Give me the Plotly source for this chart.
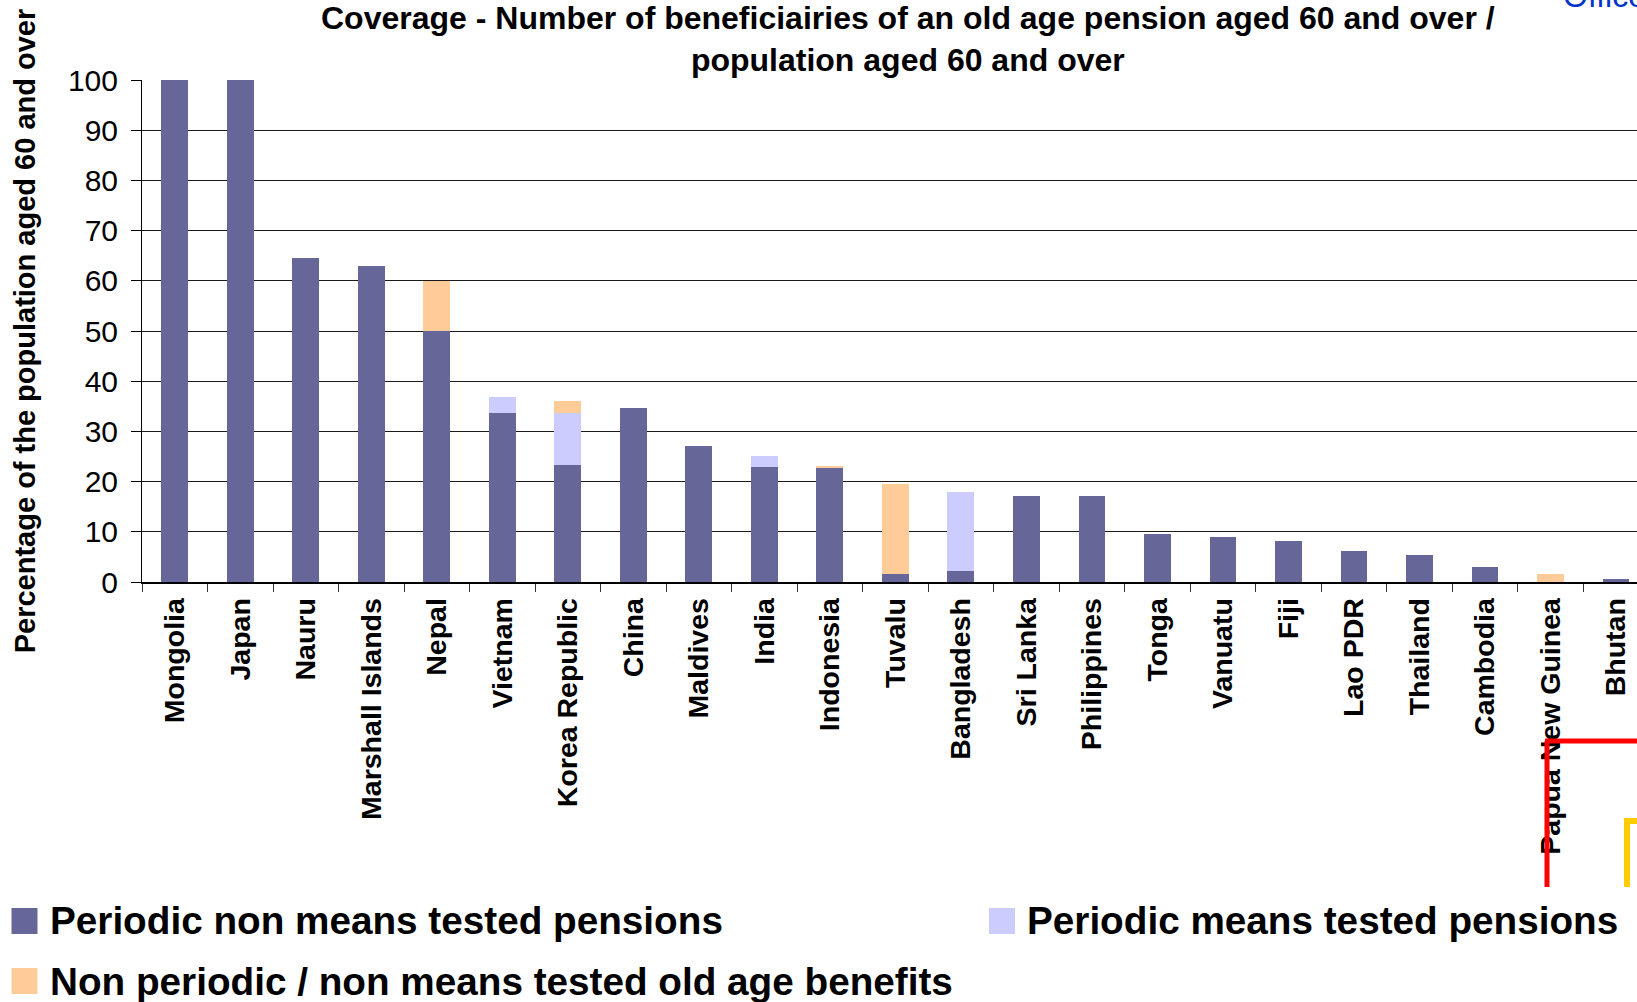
import plotly.graph_objects as go

# Countries, ordered by total coverage
countries = [
    "Mongolia", "Japan", "Nauru", "Marshall Islands", "Nepal", "Vietnam",
    "Korea Republic", "China", "Maldives", "India", "Indonesia", "Tuvalu",
    "Bangladesh", "Sri Lanka", "Philippines", "Tonga", "Vanuatu", "Fiji",
    "Lao PDR", "Thailand", "Cambodia", "Papua New Guinea", "Bhutan",
]

# Stacked components (% of population aged 60+)
periodic_non_means_tested = [
    100, 100, 64.6, 63.0, 50.0, 33.7, 23.3, 34.7, 27.1, 22.9, 22.7, 1.5,
    2.1, 17.1, 17.1, 9.5, 8.9, 8.1, 6.1, 5.3, 2.9, 0.0, 0.5,
]
periodic_means_tested = [
    0, 0, 0, 0, 0, 3.2, 10.4, 0, 0, 2.2, 0, 0,
    15.8, 0, 0, 0, 0, 0, 0, 0, 0, 0, 0,
]
non_periodic_benefits = [
    0, 0, 0, 0, 10.0, 0, 2.4, 0, 0, 0, 0.4, 18.0,
    0, 0, 0, 0, 0, 0, 0, 0, 0, 1.5, 0,
]

series_names = [
    "Periodic non means tested pensions",
    "Periodic means tested pensions",
    "Non periodic / non means tested old age benefits",
]
series_colors = ["#666699", "#CCCCFF", "#FFCC99"]

y_ticks = [0, 10, 20, 30, 40, 50, 60, 70, 80, 90, 100]

title_text = ("Coverage - Number of beneficiairies of an old age pension aged 60 and over /"
              "<br>population aged 60 and over")
y_title = "Percentage of the population aged 60 and over"

W, H = 1637, 1002
ML, MR, MT, MB = 142, 0, 80, 420
PW, PH = W - ML - MR, H - MT - MB
FONT = "Liberation Sans, Arial, sans-serif"


def px(x):
    """Pixel x -> paper x."""
    return (x - ML) / PW


def py(y):
    """Pixel y (from top) -> paper y."""
    return (H - MB - y) / PH


fig = go.Figure()
for name, vals, color in zip(series_names,
                             [periodic_non_means_tested, periodic_means_tested, non_periodic_benefits],
                             series_colors):
    fig.add_trace(go.Bar(
        x=countries, y=vals, name=name,
        marker=dict(color=color, line=dict(width=0)),
        width=0.41, showlegend=False,
    ))

fig.update_layout(
    width=W, height=H,
    margin=dict(l=ML, r=MR, t=MT, b=MB, pad=0),
    paper_bgcolor="white", plot_bgcolor="white",
    barmode="stack",
    font=dict(family=FONT, color="black"),
    xaxis=dict(
        type="category", range=[-0.5, 22.32], automargin=False,
        tickangle=-90, tickfont=dict(size=28.5, weight="bold", family=FONT),
        ticks="outside", tickson="boundaries", ticklen=8, tickcolor="#333",
        ticklabelstandoff=3,
        showline=True, linecolor="black", linewidth=1.5, showgrid=False,
    ),
    yaxis=dict(
        range=[0, 100], tickvals=y_ticks, automargin=False,
        tickfont=dict(size=30, family=FONT),
        ticks="outside", ticklen=10, tickcolor="black", ticklabelstandoff=7,
        showline=True, linecolor="black", linewidth=1,
        showgrid=True, gridcolor="#1a1a1a", gridwidth=1,
        zeroline=False,
        title=dict(text=y_title, standoff=23,
                   font=dict(size=29, weight="bold", family=FONT)),
    ),
)

# Chart title (two lines, centred over the plot)
fig.add_annotation(text=title_text, xref="paper", yref="paper",
                   x=px(908), y=py(39), xanchor="center", yanchor="middle",
                   showarrow=False, align="center",
                   font=dict(size=32, weight="bold", family=FONT, color="black"))

# Legend: swatches and labels
legend_rows = [
    (11.5, 921, 48),
    (989, 921, 1025),
    (11.5, 981, 48),
]
for (sx, cy, tx), name, color in zip(legend_rows, series_names, series_colors):
    fig.add_shape(type="rect", xref="paper", yref="paper",
                  x0=px(sx), x1=px(sx + 26), y0=py(cy - 13), y1=py(cy + 13),
                  fillcolor=color, line=dict(width=0))
    fig.add_annotation(text=name, xref="paper", yref="paper",
                       x=px(tx), y=py(cy), xanchor="left", yanchor="middle",
                       showarrow=False,
                       font=dict(size=38.7, weight="bold", family=FONT, color="black"))

# Slide overlay elements at the page edge
fig.add_annotation(text="Office", xref="paper", yref="paper",
                   x=px(1561), y=py(-4), xanchor="left", yanchor="middle",
                   showarrow=False, font=dict(size=32, family=FONT, color="#0033CC"))
fig.add_shape(type="line", xref="paper", yref="paper",
              x0=px(1547), x1=px(1547), y0=py(741), y1=py(887),
              line=dict(color="#FF0000", width=5))
fig.add_shape(type="line", xref="paper", yref="paper",
              x0=px(1545), x1=px(1645), y0=py(741), y1=py(741),
              line=dict(color="#FF0000", width=5))
fig.add_shape(type="line", xref="paper", yref="paper",
              x0=px(1627), x1=px(1627), y0=py(818), y1=py(887),
              line=dict(color="#FFCC00", width=6))
fig.add_shape(type="line", xref="paper", yref="paper",
              x0=px(1624), x1=px(1645), y0=py(821), y1=py(821),
              line=dict(color="#FFCC00", width=6))

fig.write_html("out.html")
